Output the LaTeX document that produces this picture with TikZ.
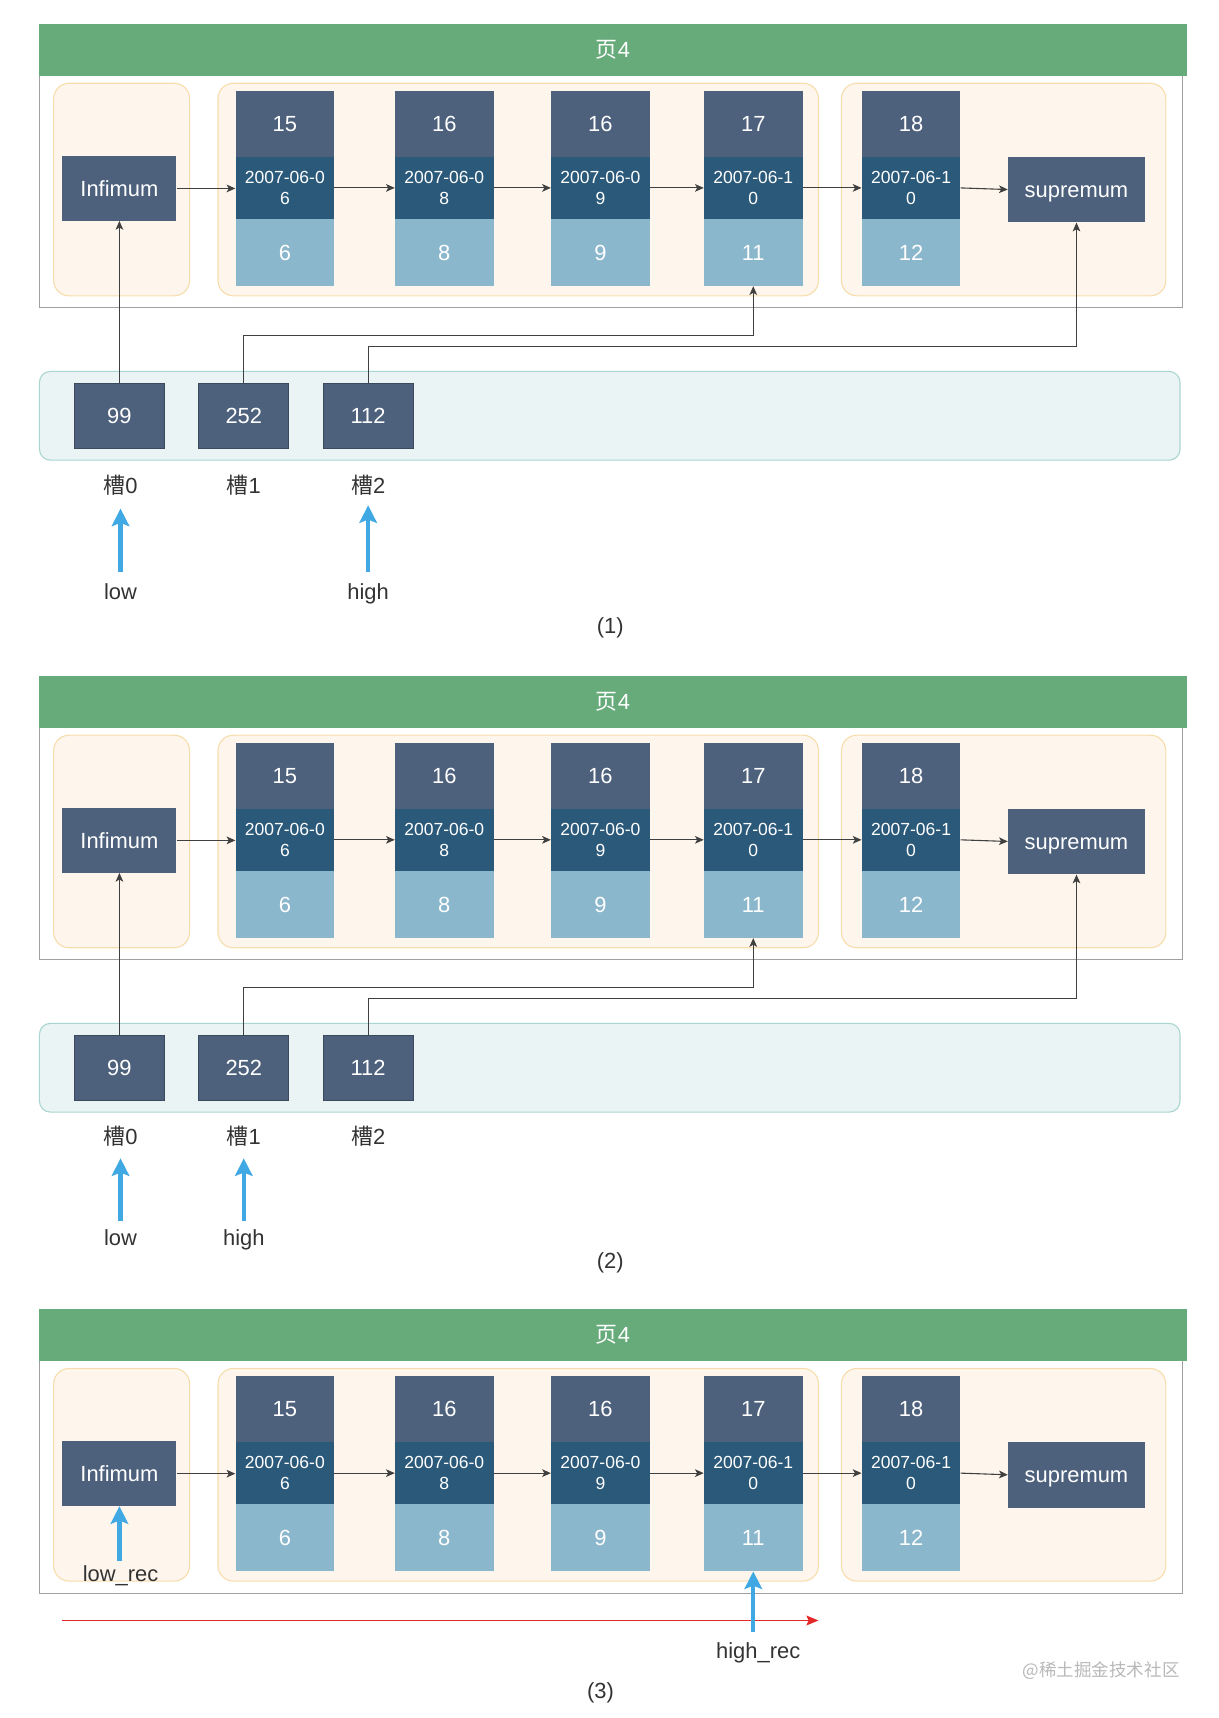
\documentclass[tikz,border=0pt]{standalone}
\usepackage{fontspec}
\setmainfont{Liberation Sans}
\newfontfamily\cjk{Noto Sans CJK SC}
\usetikzlibrary{arrows.meta}
\definecolor{hdrgreen}{RGB}{103,171,123}
\definecolor{pagegray}{RGB}{160,160,160}
\definecolor{grpfill}{RGB}{254,246,236}
\definecolor{grpline}{RGB}{248,221,172}
\definecolor{slate}{RGB}{77,97,125}
\definecolor{deep}{RGB}{43,89,122}
\definecolor{lightb}{RGB}{139,183,204}
\definecolor{slotfill}{RGB}{234,244,244}
\definecolor{slotline}{RGB}{170,214,208}
\definecolor{linkc}{RGB}{64,64,64}
\definecolor{ptrblue}{RGB}{64,168,226}
\definecolor{txt}{RGB}{51,51,51}
\definecolor{redc}{RGB}{228,40,40}
\definecolor{wmark}{RGB}{185,185,185}
\newcommand\bigf{\fontsize{20}{24}\selectfont}
\newcommand\datef{\fontsize{16}{19}\selectfont}
\tikzset{
  hdr/.style={fill=hdrgreen, draw=none, text=white, minimum width=1047pt, minimum height=47pt, inner sep=0pt, font=\bigf},
  pagebox/.style={draw=pagegray, line width=1pt, fill=white},
  grp/.style={draw=grpline, fill=grpfill, rounded corners=14pt, line width=1pt},
  slotgrp/.style={draw=slotline, fill=slotfill, rounded corners=10pt, line width=1pt},
  cellT/.style={fill=slate, text=white, minimum width=90pt, minimum height=60pt, inner sep=0pt, font=\bigf},
  cellM/.style={fill=deep, text=white, minimum width=90pt, minimum height=57pt, inner sep=0pt, align=center, font=\datef},
  cellB/.style={fill=lightb, text=white, minimum width=90pt, minimum height=61pt, inner sep=0pt, font=\bigf},
  endbox/.style={fill=slate, text=white, inner sep=0pt, text height=14pt, text depth=0pt, font=\bigf},
  slotbox/.style={fill=slate, draw=slate!75!black, line width=0.8pt, text=white, minimum width=82pt, minimum height=59pt, inner sep=0pt, font=\bigf},
  link/.style={draw=linkc, line width=1pt, -{Stealth[length=8pt,width=7pt,inset=2pt]}},
  ptr/.style={draw=ptrblue, line width=4pt, -{Stealth[length=16pt,width=16pt,inset=3pt]}},
  redarrow/.style={draw=redc, line width=1pt, -{Stealth[length=11pt,width=9pt,inset=2pt]}},
  lbl/.style={text=txt, inner sep=0pt, text height=15pt, text depth=4pt, anchor=base, font=\bigf},
}
\newcommand\rec[6]{%
  \node[cellT] (#1t) at (#2,113) {#3};
  \node[cellM] (#1m) at (#2,171.5) {#4\\#5};
  \node[cellB] (#1b) at (#2,230.5) {#6};
}
\newcommand\mypanel[1]{%
  \draw[pagebox] (36,69) rectangle (1079,281);
  \node[hdr] (#1hdr) at (559.5,45.5) {{\cjk 页}4};
  \draw[grp] (49,76) rectangle (173,270);
  \draw[grp] (199,76) rectangle (747,270);
  \draw[grp] (768,76) rectangle (1064,270);
  \node[endbox, minimum width=104pt, minimum height=59pt] (#1inf) at (109,172) {Infimum};
  \rec{#1r1}{260}{15}{2007-06-0}{6}{6}
  \rec{#1r2}{405.5}{16}{2007-06-0}{8}{8}
  \rec{#1r3}{548}{16}{2007-06-0}{9}{9}
  \rec{#1r4}{687.5}{17}{2007-06-1}{0}{11}
  \rec{#1r5}{831.5}{18}{2007-06-1}{0}{12}
  \node[endbox, minimum width=125pt, minimum height=60pt] (#1sup) at (982.5,173) {supremum};
  \draw[link] (#1inf.east) -- (#1inf.east -| #1r1m.west);
  \draw[link] (#1r1m.east) -- (#1r2m.west);
  \draw[link] (#1r2m.east) -- (#1r3m.west);
  \draw[link] (#1r3m.east) -- (#1r4m.west);
  \draw[link] (#1r4m.east) -- (#1r5m.west);
  \draw[link] (#1r5m.east) -- (#1sup.west);
}
\newcommand\myslots[1]{%
  \draw[slotgrp] (36,339) rectangle (1077,420);
  \node[slotbox] (#1s0) at (109,379.5) {99};
  \node[slotbox] (#1s1) at (222.5,379.5) {252};
  \node[slotbox] (#1s2) at (336,379.5) {112};
  \draw[link] (#1s0.north) -- (#1inf.south);
  \draw[link] (#1s1.north) -- ++(0,-43) -| (#1r4b.south);
  \draw[link] (#1s2.north) -- ++(0,-33) -| (#1sup.south);
  \node[lbl] (#1l0) at (110,450) {{\cjk 槽}0};
  \node[lbl] (#1l1) at (222.5,450) {{\cjk 槽}1};
  \node[lbl] (#1l2) at (336,450) {{\cjk 槽}2};
}
\begin{document}
\begin{tikzpicture}[x=1pt,y=-1pt]
\useasboundingbox[fill=white] (0,0) rectangle (1112,1568);
% ---------- panel 1 ----------
\begin{scope}
  \mypanel{a}
  \myslots{a}
\end{scope}
\node[lbl] (alow) at (110,547) {low};
\node[lbl] (ahigh) at (336,547) {high};
\draw[ptr, shorten <=10pt, shorten >=10pt] (alow.north) -- (al0.south);
\draw[ptr, shorten <=10pt, shorten >=7pt] (ahigh.north) -- (al2.south);
\node[lbl] (acap) at (557,578) {(1)};
% ---------- panel 2 ----------
\begin{scope}[shift={(0,595)}]
  \mypanel{b}
  \myslots{b}
\end{scope}
\node[lbl] (blow) at (110,1137) {low};
\node[lbl] (bhigh) at (222.5,1137) {high};
\draw[ptr, shorten <=7pt, shorten >=8pt] (blow.north) -- (bl0.south);
\draw[ptr, shorten <=7pt, shorten >=8pt] (bhigh.north) -- (bl1.south);
\node[lbl] (bcap) at (557,1158) {(2)};
% ---------- panel 3 ----------
\begin{scope}[shift={(0,1173)}]
  \mypanel{c}
\end{scope}
\node[lbl] (clow) at (110,1443) {low\_rec};
\draw[ptr, shorten <=3pt] (cinf.south |- clow.north) -- (cinf.south);
\coordinate (redA) at (57,1479);
\coordinate (redB) at (747,1479);
\draw[redarrow] (redA) -- (redB);
\node[lbl] (chigh) at (692,1514) {high\_rec};
\draw[ptr, shorten <=9pt] (cr4b.south |- chigh.north) -- (cr4b.south);
\node[lbl] (ccap) at (548,1550) {(3)};
\node[text=wmark, inner sep=0pt, font={\cjk\fontsize{16}{19}\selectfont}] (wm) at (1005,1525) {@稀土掘金技术社区};
\end{tikzpicture}
\end{document}
